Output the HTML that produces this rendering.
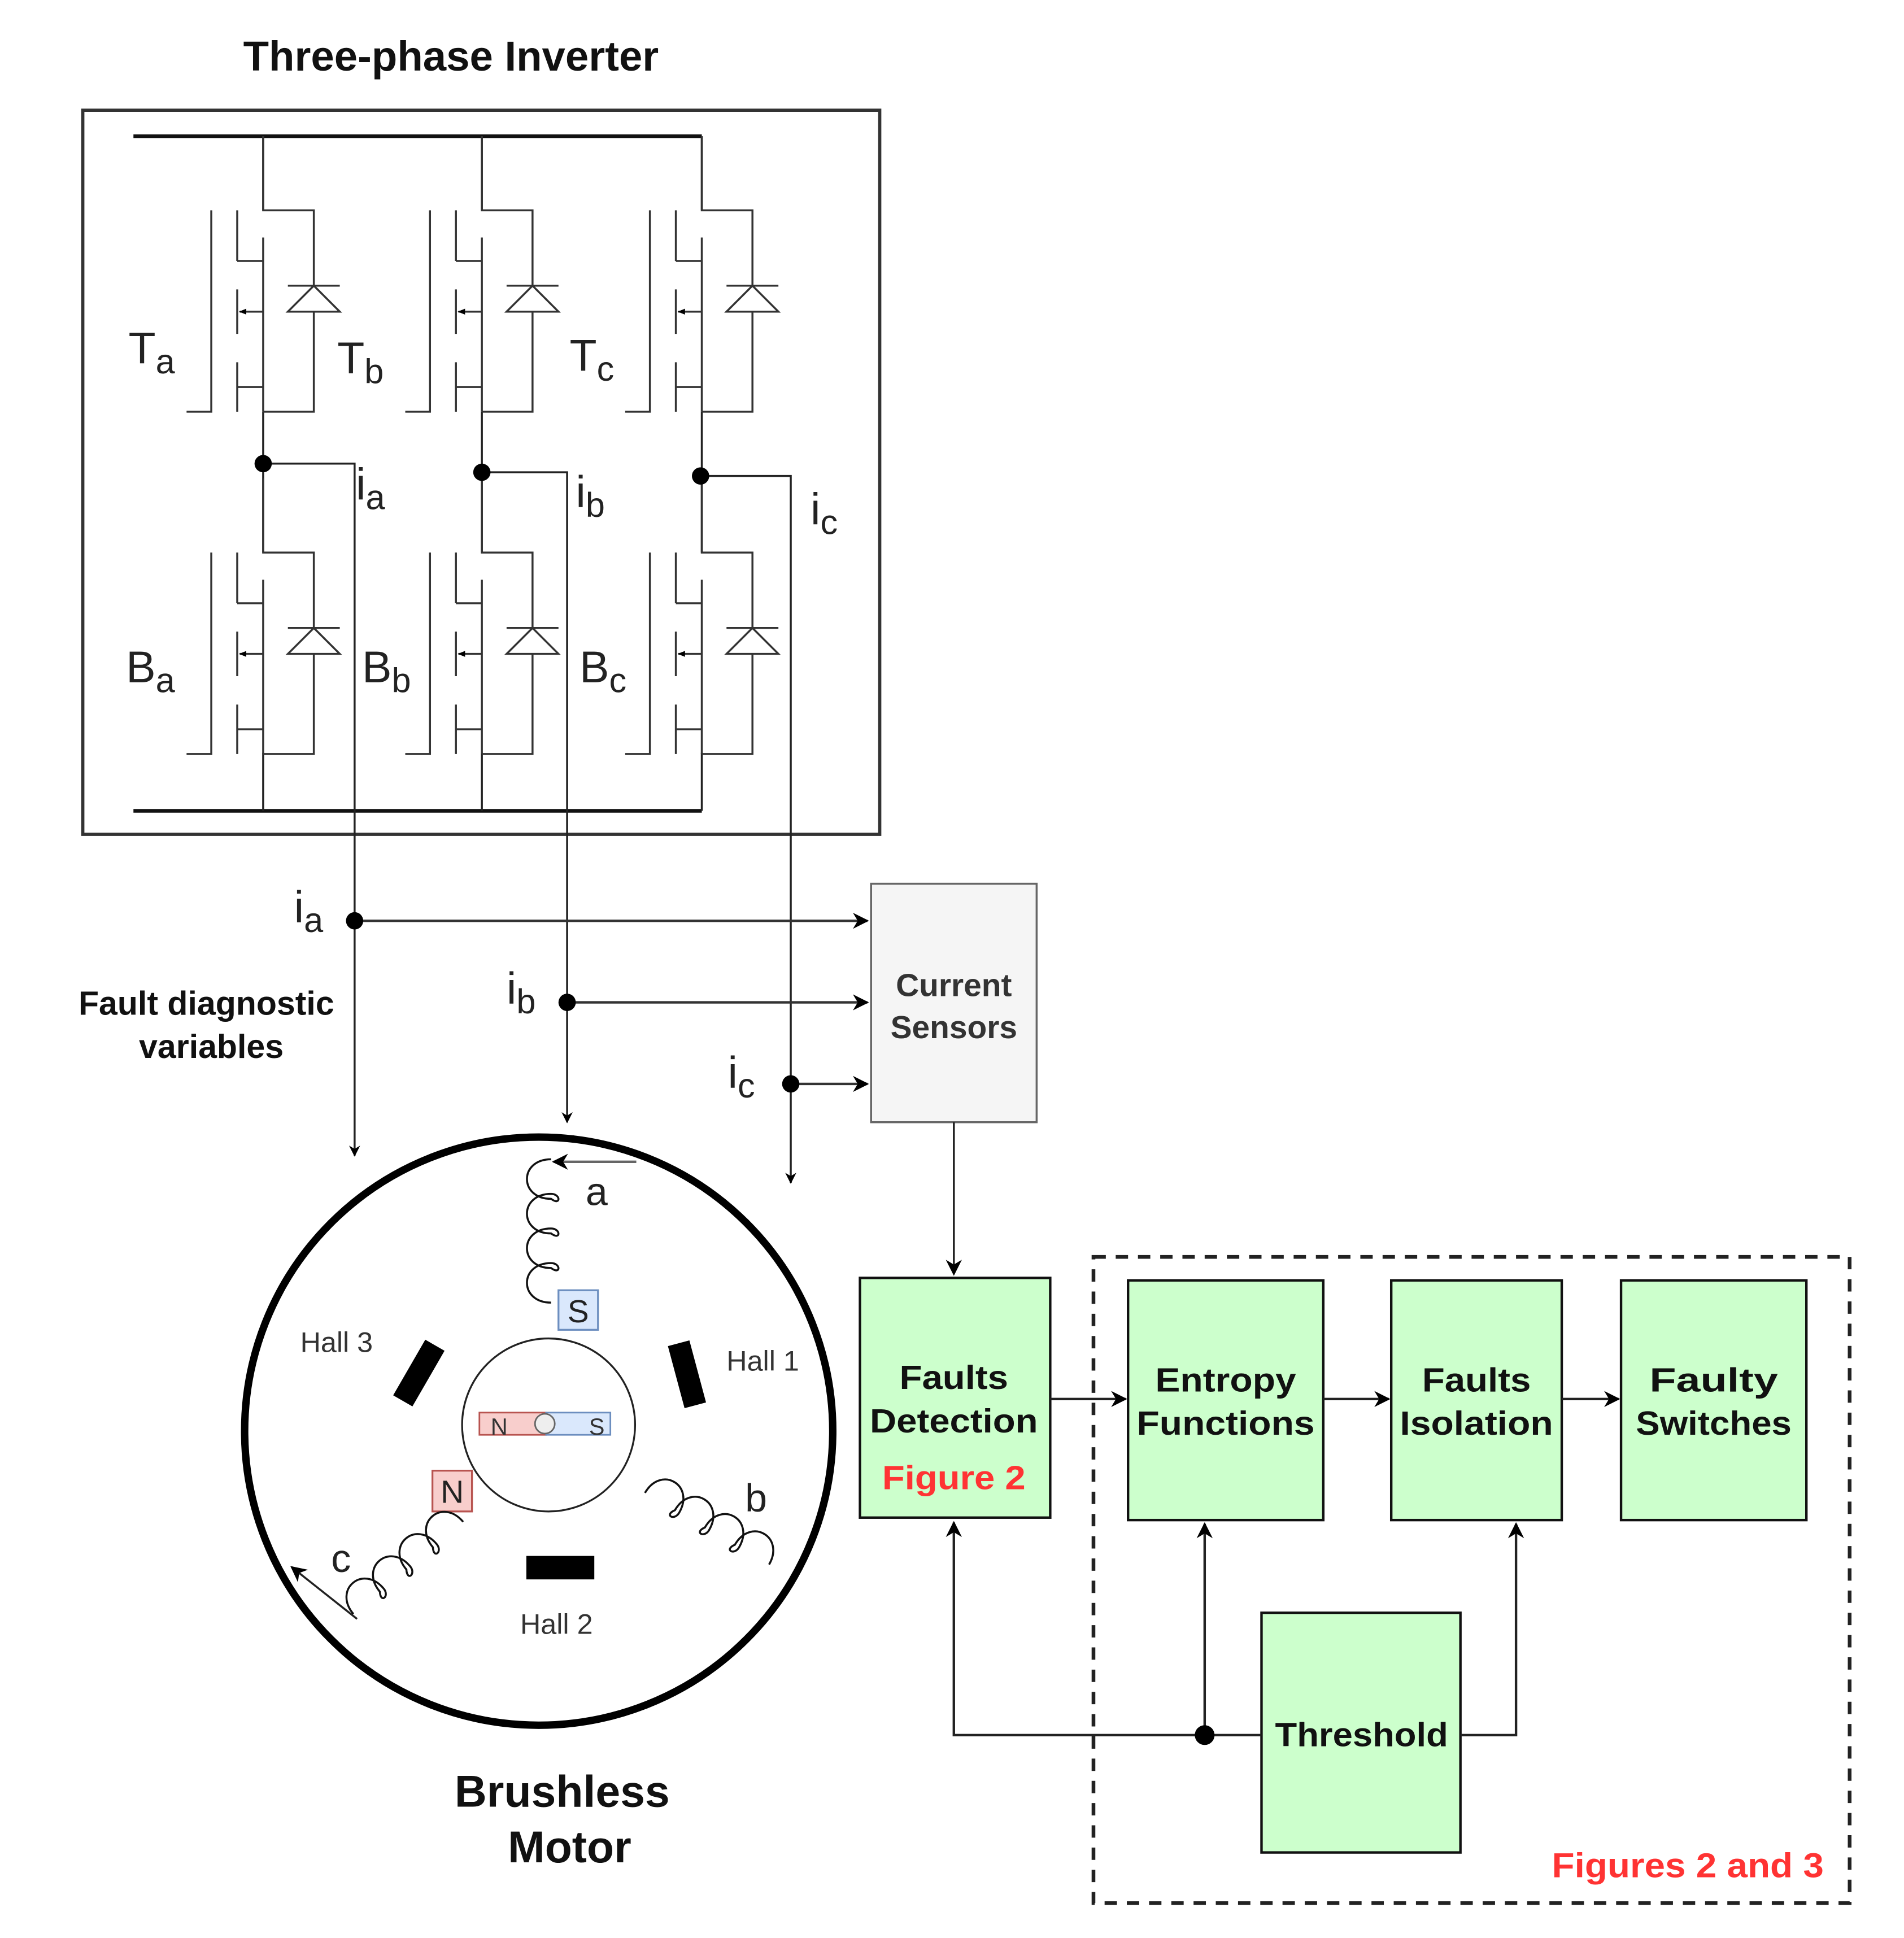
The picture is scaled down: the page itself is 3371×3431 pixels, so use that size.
<!DOCTYPE html>
<html><head><meta charset="utf-8"><style>
html,body{margin:0;padding:0;background:#fff;}
svg{display:block;}
text{font-family:"Liberation Sans",sans-serif;}
</style></head><body>
<svg width="3371" height="3431" viewBox="0 0 1541 1568" xmlns="http://www.w3.org/2000/svg">
<defs>
<marker id="ar" viewBox="0 0 10 10" refX="9" refY="5" markerWidth="9" markerHeight="9" markerUnits="userSpaceOnUse" orient="auto">
<path d="M0,0 L10,5 L0,10 L3,5 Z" fill="#000"/></marker>
<marker id="arB" viewBox="0 0 10 10" refX="9" refY="5" markerWidth="13" markerHeight="13" markerUnits="userSpaceOnUse" orient="auto">
<path d="M0,0 L10,5 L0,10 L3,5 Z" fill="#000"/></marker>
<marker id="sa" viewBox="0 0 10 10" refX="9" refY="5" markerWidth="6" markerHeight="6" markerUnits="userSpaceOnUse" orient="auto">
<path d="M0,1 L10,5 L0,9 Z" fill="#000"/></marker>
<g id="mos" fill="none" stroke="#333" stroke-width="1.6">
<path d="M0,0 V60 H41 V121"/>
<path d="M41,142 V223 H0"/>
<path d="M20,121 H62 M41,121 L20,142 L62,142 Z" fill="#fff"/>
<path d="M0,101 H-21 M0,82 V223 M0,142 H-19" marker-end="url(#sa)"/>
<path d="M-21,60 V101 M-21,124 V160 M-21,183 V223 M-21,203 H0"/>
<path d="M-42,60 V223 H-62"/>
</g>
<path id="coil" fill="none" stroke="#111" stroke-width="1.6" d="M0,0 c0,-26 32,-26 32,0 c0,8 -10,8 -4,0 c0,-26 32,-26 32,0 c0,8 -10,8 -4,0 c0,-26 32,-26 32,0 c0,8 -10,8 -4,0 c0,-26 32,-26 32,0"/>
</defs>

<text x="365" y="57" font-size="34" font-weight="bold" text-anchor="middle" fill="#111">Three-phase Inverter</text>
<rect x="67" y="89" width="645" height="586" fill="none" stroke="#333" stroke-width="2.6"/>
<line x1="108" y1="110" x2="568" y2="110" stroke="#111" stroke-width="3"/>
<line x1="108" y1="656" x2="568" y2="656" stroke="#111" stroke-width="3"/>

<g stroke="#222" stroke-width="1.6" fill="none">
<path d="M213,110 V170 M213,333 V447 M213,609 V656"/>
<path d="M390,110 V170 M390,333 V447 M390,609 V656"/>
<path d="M568,110 V170 M568,333 V447 M568,609 V656"/>
<path d="M213,375 H287 V935" marker-end="url(#ar)"/>
<path d="M390,382 H459 V908" marker-end="url(#ar)"/>
<path d="M568,385 H640 V957" marker-end="url(#ar)"/>
</g>
<use href="#mos" transform="translate(213,110)"/>
<use href="#mos" transform="translate(390,110)"/>
<use href="#mos" transform="translate(568,110)"/>
<use href="#mos" transform="translate(213,387)"/>
<use href="#mos" transform="translate(390,387)"/>
<use href="#mos" transform="translate(568,387)"/>
<circle cx="213" cy="375" r="7" fill="#000"/>
<circle cx="390" cy="382" r="7" fill="#000"/>
<circle cx="567" cy="385" r="7" fill="#000"/>

<g font-size="36" fill="#222">
<text x="104" y="294">T<tspan font-size="28" dy="8">a</tspan></text>
<text x="273" y="302">T<tspan font-size="28" dy="8">b</tspan></text>
<text x="461" y="300">T<tspan font-size="28" dy="8">c</tspan></text>
<text x="288" y="404">i<tspan font-size="28" dy="8">a</tspan></text>
<text x="466" y="410">i<tspan font-size="28" dy="8">b</tspan></text>
<text x="656" y="424">i<tspan font-size="28" dy="8">c</tspan></text>
<text x="102" y="552">B<tspan font-size="28" dy="8">a</tspan></text>
<text x="293" y="552">B<tspan font-size="28" dy="8">b</tspan></text>
<text x="469" y="552">B<tspan font-size="28" dy="8">c</tspan></text>
<text x="238" y="746">i<tspan font-size="28" dy="8">a</tspan></text>
<text x="410" y="812">i<tspan font-size="28" dy="8">b</tspan></text>
<text x="589" y="880">i<tspan font-size="28" dy="8">c</tspan></text>
</g>

<g stroke="#333" stroke-width="2" fill="none">
<line x1="287" y1="745" x2="702" y2="745" marker-end="url(#arB)"/>
<line x1="459" y1="811" x2="702" y2="811" marker-end="url(#arB)"/>
<line x1="640" y1="877" x2="702" y2="877" marker-end="url(#arB)"/>
</g>
<circle cx="287" cy="745" r="7" fill="#000"/>
<circle cx="459" cy="811" r="7" fill="#000"/>
<circle cx="640" cy="877" r="7" fill="#000"/>

<g font-size="27" font-weight="bold" fill="#111" text-anchor="middle">
<text x="167" y="821">Fault diagnostic</text>
<text x="171" y="856">variables</text>
</g>

<rect x="705" y="715" width="134" height="193" fill="#f5f5f5" stroke="#666" stroke-width="1.6"/>
<g font-size="26" font-weight="bold" fill="#333" text-anchor="middle">
<text x="772" y="806">Current</text><text x="772" y="840">Sensors</text>
</g>
<line x1="772" y1="908" x2="772" y2="1031" stroke="#222" stroke-width="1.6" marker-end="url(#arB)"/>

<g fill="#ccffcc" stroke="#111" stroke-width="2">
<rect x="696" y="1034" width="154" height="194"/>
<rect x="913" y="1036" width="158" height="194"/>
<rect x="1126" y="1036" width="138" height="194"/>
<rect x="1312" y="1036" width="150" height="194"/>
<rect x="1021" y="1305" width="161" height="194"/>
</g>
<g font-size="27" font-weight="bold" fill="#111" text-anchor="middle">
<text x="772" y="1124" textLength="88" lengthAdjust="spacingAndGlyphs">Faults</text>
<text x="772" y="1159" textLength="136" lengthAdjust="spacingAndGlyphs">Detection</text>
<text x="772" y="1205" fill="#ff3333" textLength="116" lengthAdjust="spacingAndGlyphs">Figure 2</text>
<text x="992" y="1126" textLength="114" lengthAdjust="spacingAndGlyphs">Entropy</text>
<text x="992" y="1161" textLength="144" lengthAdjust="spacingAndGlyphs">Functions</text>
<text x="1195" y="1126" textLength="88" lengthAdjust="spacingAndGlyphs">Faults</text>
<text x="1195" y="1161" textLength="124" lengthAdjust="spacingAndGlyphs">Isolation</text>
<text x="1387" y="1126" textLength="104" lengthAdjust="spacingAndGlyphs">Faulty</text>
<text x="1387" y="1161" textLength="126" lengthAdjust="spacingAndGlyphs">Switches</text>
<text x="1102" y="1413" textLength="140" lengthAdjust="spacingAndGlyphs">Threshold</text>
</g>
<g stroke="#222" stroke-width="2" fill="none">
<line x1="850" y1="1132" x2="911" y2="1132" marker-end="url(#arB)"/>
<line x1="1071" y1="1132" x2="1124" y2="1132" marker-end="url(#arB)"/>
<line x1="1264" y1="1132" x2="1310" y2="1132" marker-end="url(#arB)"/>
<path d="M1021,1404 H772 V1232" marker-end="url(#arB)"/>
<path d="M975,1404 V1233" marker-end="url(#arB)"/>
<path d="M1182,1404 H1227 V1233" marker-end="url(#arB)"/>
</g>
<circle cx="975" cy="1404" r="8" fill="#000"/>
<rect x="885" y="1017" width="612" height="523" fill="none" stroke="#222" stroke-width="3" stroke-dasharray="10,8"/>
<text x="1476" y="1519" font-size="28" font-weight="bold" fill="#ff3333" text-anchor="end" textLength="220" lengthAdjust="spacingAndGlyphs">Figures 2 and 3</text>

<circle cx="436" cy="1158" r="238" fill="none" stroke="#000" stroke-width="6"/>
<circle cx="444" cy="1153" r="70" fill="none" stroke="#222" stroke-width="1.5"/>
<rect x="388" y="1143" width="54" height="18" fill="#f8cecc" stroke="#b85450" stroke-width="1.3"/>
<rect x="442" y="1143" width="52" height="18" fill="#dae8fc" stroke="#6c8ebf" stroke-width="1.3"/>
<circle cx="441" cy="1152" r="8" fill="#eee" stroke="#666" stroke-width="1.3"/>
<text x="404" y="1161" font-size="19" fill="#333" text-anchor="middle">N</text>
<text x="483" y="1161" font-size="19" fill="#333" text-anchor="middle">S</text>
<rect x="452" y="1044" width="32" height="32" fill="#dae8fc" stroke="#6c8ebf" stroke-width="1.5"/>
<text x="468" y="1070" font-size="26" fill="#222" text-anchor="middle">S</text>
<rect x="350" y="1190" width="32" height="33" fill="#f8cecc" stroke="#b85450" stroke-width="1.5"/>
<text x="366" y="1216" font-size="26" fill="#222" text-anchor="middle">N</text>
<rect x="-9" y="-26" width="18" height="52" fill="#000" transform="translate(339,1111) rotate(30)"/>
<rect x="-9" y="-26" width="18" height="52" fill="#000" transform="translate(556,1112) rotate(-15)"/>
<rect x="426" y="1259" width="55" height="19" fill="#000"/>
<g font-size="23" fill="#333">
<text x="243" y="1094">Hall 3</text>
<text x="588" y="1109">Hall 1</text>
<text x="421" y="1322">Hall 2</text>
</g>
<g font-size="32" fill="#222">
<text x="474" y="975">a</text>
<text x="603" y="1223">b</text>
<text x="268" y="1272">c</text>
</g>
<use href="#coil" transform="translate(446,1054) rotate(-90)"/>
<line x1="515" y1="940" x2="448" y2="940" stroke="#666" stroke-width="2" marker-end="url(#arB)"/>
<use href="#coil" transform="translate(522,1208) rotate(30)"/>
<use href="#coil" transform="translate(286,1306) rotate(-40)"/>
<line x1="289" y1="1310" x2="236" y2="1268" stroke="#222" stroke-width="1.6" marker-end="url(#arB)"/>
<g font-size="36" font-weight="bold" fill="#111" text-anchor="middle">
<text x="455" y="1462">Brushless</text><text x="461" y="1507">Motor</text>
</g>
</svg>
</body></html>
